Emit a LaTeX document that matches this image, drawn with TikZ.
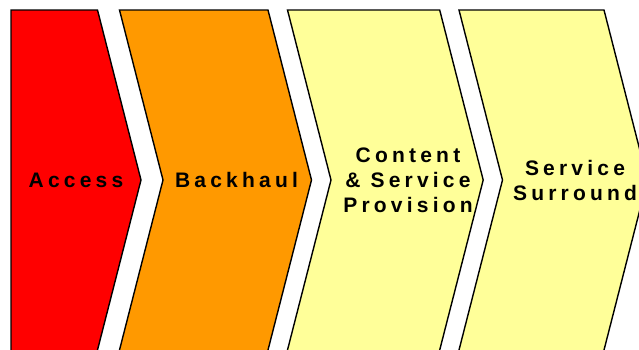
\documentclass[tikz,border=0pt]{standalone}
\usepackage{fontspec}
\newfontfamily\lblfont[LetterSpace=20]{Liberation Sans}
\definecolor{accessred}{HTML}{FF0000}
\definecolor{backorange}{HTML}{FF9900}
\definecolor{paleyellow}{HTML}{FFFF99}
\tikzset{
  chev/.style={draw=black, line width=1.4pt, line join=miter},
  lbl/.style={font=\lblfont\bfseries\fontsize{21}{25}\selectfont, align=center, text=black, inner sep=0pt}
}
\begin{document}
\begin{tikzpicture}[x=1pt,y=-1pt]
\useasboundingbox (0,0) rectangle (639,349);
\clip (0,0) rectangle (639,349);
% chevron 1: Access
\draw[chev, fill=accessred] (11,10) -- (97.5,10) -- (141,180) -- (97.5,350) -- (97,352) -- (11,352) -- cycle;
% chevron 2: Backhaul
\draw[chev, fill=backorange] (119.5,10) -- (268,10) -- (311.5,180) -- (268,350) -- (267.5,352) -- (119,352) -- (119.5,350) -- (163,180) -- cycle;
% chevron 3: Content & Service Provision
\draw[chev, fill=paleyellow] (287.5,10) -- (439.7,10) -- (483.2,180) -- (439.7,350) -- (439.2,352) -- (287,352) -- (287.5,350) -- (331,180) -- cycle;
% chevron 4: Service Surround
\draw[chev, fill=paleyellow] (459,10) -- (604,10) -- (647.5,180) -- (604,350) -- (603.5,352) -- (458.5,352) -- (459,350) -- (502.5,180) -- cycle;
\node[lbl] (access) at (76,180) {Access};
\node[lbl] (backhaul) at (236.5,180) {Backhaul};
\node[lbl] (content) at (408,180) {Content\\\& Service\\Provision};
\node[lbl] (surround) at (575,180) {Service\\Surround};
\end{tikzpicture}
\end{document}
